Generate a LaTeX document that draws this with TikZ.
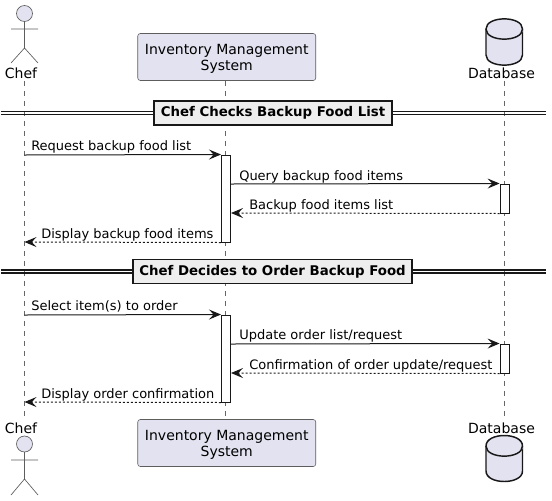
\documentclass[tikz,border=0pt]{standalone}
\usepackage{fontspec}
\setmainfont{DejaVu Sans}
\usetikzlibrary{positioning}
\usetikzlibrary{arrows.meta}
\definecolor{partfill}{HTML}{E2E2F0}
\definecolor{partline}{HTML}{181818}
\definecolor{divfill}{HTML}{EEEEEE}
\newcommand{\lowertext}[1]{\raisebox{-1.3pt}[\height][\depth]{#1}}
\begin{document}
\begin{tikzpicture}[x=0.75pt,y=-0.75pt,
  lifeline/.style={gray!80!black, line width=0.6pt, dash pattern=on 3.75pt off 3.75pt},
  msg/.style={partline, line width=0.75pt, -{Stealth[length=9pt,width=7.5pt,inset=3.5pt]}},
  reply/.style={msg, dash pattern=on 1.5pt off 1.5pt},
  msgtext/.style={anchor=base west, inner sep=0pt, font=\fontsize{9.75pt}{12pt}\selectfont},
  partname/.style={inner sep=0pt, font=\fontsize{10.5pt}{12.3pt}\selectfont},
  partbox/.style={draw=partline!70, fill=partfill, line width=0.4pt, rounded corners=1.9pt, minimum width=133.5pt, minimum height=35.25pt, align=center, partname},
  actbar/.style={draw=partline, fill=white, line width=0.75pt, minimum width=7.1pt, inner sep=0pt},
  actorline/.style={partline!70, line width=0.5pt},
  dbshape/.style={draw=partline, fill=partfill, line width=1.1pt},
  divline/.style={partline, line width=0.85pt},
  divbox/.style={draw=partline, fill=divfill, line width=1.4pt, minimum height=18pt, inner sep=0pt, font=\bfseries\fontsize{10pt}{12pt}\selectfont}
  ]
\useasboundingbox (0,0) rectangle (552,500);

% lifelines
\coordinate (cheftop) at (24.5,81);
\coordinate (chefbot) at (24.5,416);
\coordinate (invtop) at (225.5,81);
\coordinate (invbot) at (225.5,418);
\coordinate (dbtop) at (504.5,81);
\coordinate (dbbot) at (504.5,416);
\draw[lifeline] (cheftop) -- (chefbot);
\draw[lifeline] (invtop) -- (invbot);
\draw[lifeline] (dbtop) -- (dbbot);

% top row
\draw[actorline, fill=partfill] (24.5,13.5) circle [radius=8];
\draw[actorline] (24.5,21.5)--(24.5,48) (11,29)--(38,29) (11,63)--(24.5,48)--(38,63);
\node[partname] (cheftext) at (21,73.5) {Chef};
\node[partbox] (invhead) at (226.75,57) {\lowertext{Inventory Management}\\\lowertext{System}};
\draw[dbshape] (486,29) .. controls (486,15.5) and (522.5,15.5) .. (522.5,29) -- (522.5,55) .. controls (522.5,68.5) and (486,68.5) .. (486,55) -- cycle;
\draw[dbshape] (486,29) .. controls (486,42.5) and (522.5,42.5) .. (522.5,29);
\node[partname] (dbtext) at (501.5,73.5) {Database};

% first group
\coordinate (lineal) at (1,111.7);
\coordinate (linear) at (546,111.7);
\coordinate (linebl) at (1,114.7);
\coordinate (linebr) at (546,114.7);
\draw[divline] (lineal) -- (linear);
\draw[divline] (linebl) -- (linebr);
\node[divbox, minimum width=178.5pt] (divone) at (273,113) {Chef Checks Backup Food List};

\node[actbar, minimum height=65.25pt] (acta) at (226.2,198.5) {};
\node[actbar, minimum height=21.75pt] (actb) at (504.8,198.5) {};
\coordinate (msga) at (24.5,155);
\coordinate (msgb) at (24.5,242);
\coordinate (msgc) at (231,184);
\coordinate (msgd) at (231,213);
\draw[msg] (msga) -- (acta.north west);
\draw[msg] (msgc) -- (actb.north west);
\draw[reply] (actb.south west) -- (msgd);
\draw[reply] (acta.south west) -- (msgb);
\node[msgtext] (texta) at (31,150) {Request backup food list};
\node[msgtext] (textb) at (239,180) {Query backup food items};
\node[msgtext] (textc) at (249,209) {Backup food items list};
\node[msgtext] (textd) at (41,238) {Display backup food items};

% second group
\coordinate (linecl) at (1,270);
\coordinate (linecr) at (546,270);
\coordinate (linedl) at (1,273);
\coordinate (linedr) at (546,273);
\draw[divline] (linecl) -- (linecr);
\draw[divline] (linedl) -- (linedr);
\node[divbox, minimum width=209.25pt] (divtwo) at (272.5,271.5) {Chef Decides to Order Backup Food};

\node[actbar, minimum height=65.25pt] (actc) at (226.2,358.5) {};
\node[actbar, minimum height=21.75pt] (actd) at (504.8,358.5) {};
\coordinate (msge) at (24.5,315);
\coordinate (msgf) at (24.5,402);
\coordinate (msgg) at (231,344);
\coordinate (msgh) at (231,373);
\draw[msg] (msge) -- (actc.north west);
\draw[msg] (msgg) -- (actd.north west);
\draw[reply] (actd.south west) -- (msgh);
\draw[reply] (actc.south west) -- (msgf);
\node[msgtext] (texte) at (31,310) {Select item(s) to order};
\node[msgtext] (textf) at (239,339) {Update order list/request};
\node[msgtext] (textg) at (249,369) {Confirmation of order update/request};
\node[msgtext] (texth) at (41,398) {Display order confirmation};

% bottom row
\node[partname] (cheffoot) at (21,428.5) {Chef};
\draw[actorline, fill=partfill] (24.5,444) circle [radius=8];
\draw[actorline] (24.5,452)--(24.5,479) (11,460)--(38,460) (11,495)--(24.5,479)--(38,495);
\node[partbox] (invfoot) at (226.75,443) {\lowertext{Inventory Management}\\\lowertext{System}};
\node[partname] (dbfoot) at (501.5,428.5) {Database};
\draw[dbshape] (486,446) .. controls (486,432) and (522.5,432) .. (522.5,446) -- (522.5,471) .. controls (522.5,485) and (486,485) .. (486,471) -- cycle;
\draw[dbshape] (486,446) .. controls (486,459.5) and (522.5,459.5) .. (522.5,446);
\end{tikzpicture}
\end{document}
